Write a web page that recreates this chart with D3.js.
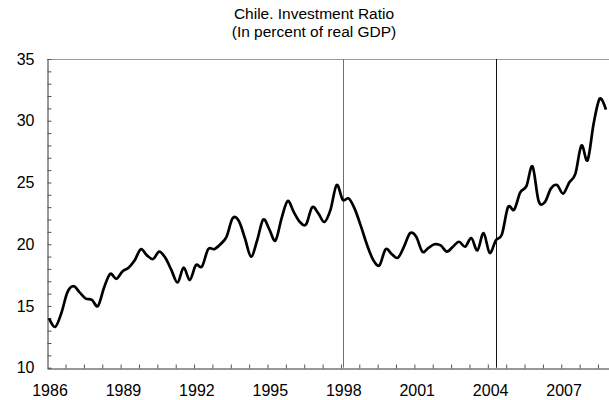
<!DOCTYPE html>
<html>
<head>
<meta charset="utf-8">
<script src="https://cdn.jsdelivr.net/npm/d3@7"></script>
<style>
  body { margin: 0; background: #fff; }
  text { font-family: "Liberation Sans", Arial, sans-serif; fill: #000; }
</style>
</head>
<body>
<script>
// quarterly investment ratio, 1986Q1 .. 2008Q4
const startYear = 1986
const ratio = [
  14.0, 13.3, 14.4, 16.1, 16.6, 16.1, 15.6, 15.5, 15.0, 16.5,
  17.6, 17.2, 17.8, 18.1, 18.7, 19.6, 19.1, 18.8, 19.4, 18.9,
  17.9, 16.9, 18.1, 17.1, 18.3, 18.2, 19.6, 19.6, 20.0, 20.6,
  22.1, 21.9, 20.5, 19.0, 20.3, 22.0, 21.2, 20.3, 22.1, 23.5,
  22.6, 21.8, 21.6, 23.0, 22.5, 21.8, 22.8, 24.8, 23.6, 23.7,
  22.8, 21.4, 19.9, 18.7, 18.3, 19.6, 19.2, 18.9, 19.8, 20.9,
  20.6, 19.4, 19.7, 20.0, 19.9, 19.4, 19.8, 20.2, 19.8, 20.5,
  19.5, 20.9, 19.3, 20.3, 20.8, 23.0, 22.8, 24.2, 24.7, 26.3,
  23.5, 23.4, 24.5, 24.8, 24.1, 25.0, 25.7, 28.0, 26.8, 29.8,
  31.8, 30.9
]
const quarters = ratio.map((d, i) => (startYear + Math.floor(i / 4)) + "Q" + (i % 4 + 1))
const yearLabels = [1986, 1989, 1992, 1995, 1998, 2001, 2004, 2007]
const yTicks = [10, 15, 20, 25, 30, 35]
const eventQuarters = ["1998Q1", "2004Q2"]
const titleLines = ["Chile. Investment Ratio", "(In percent of real GDP)"]

const width = 609, height = 400
const margin = { top: 59, right: 0, bottom: 32, left: 47 }

const svg = d3.select("body")
  .append("svg")
  .attr("width", width)
  .attr("height", height)

// index based x scale (categories are evenly spaced quarters)
const x = d3.scaleLinear()
  .domain([-0.33, ratio.length - 0.5])
  .range([margin.left, width - margin.right])

const y = d3.scaleLinear()
  .domain([10, 35])
  .range([height - margin.bottom - 0.3, margin.top])

// title
svg.selectAll(".title")
  .data(titleLines)
  .enter()
  .append("text")
  .attr("class", "title")
  .attr("x", 314)
  .attr("y", (d, i) => 19 + i * 18)
  .attr("text-anchor", "middle")
  .style("font-size", "15.5px")
  .text(d => d)

// top border
svg.append("line")
  .attr("x1", margin.left).attr("x2", width)
  .attr("y1", Math.round(y(35)) + 0.5).attr("y2", Math.round(y(35)) + 0.5)
  .attr("stroke", "#9a9a9a")

// event lines
svg.selectAll(".event")
  .data(eventQuarters)
  .enter()
  .append("line")
  .attr("class", "event")
  .attr("x1", d => Math.round(x(quarters.indexOf(d))) + 0.5)
  .attr("x2", d => Math.round(x(quarters.indexOf(d))) + 0.5)
  .attr("y1", y(35))
  .attr("y2", y(10))
  .attr("stroke", (d, i) => i === 0 ? "#707070" : "#111")
  .attr("stroke-width", 1)

// y axis with minor ticks every 1
const yAxis = svg.append("g")
  .attr("transform", `translate(${margin.left + 0.5},0)`)
  .call(d3.axisLeft(y)
    .tickValues(d3.range(10, 36))
    .tickSize(-4)
    .tickSizeOuter(0)
    .tickPadding(13)
    .tickFormat(d => yTicks.includes(d) ? d : ""))
yAxis.select(".domain").attr("stroke", "#333")
yAxis.selectAll(".tick line").attr("stroke", "#555")
yAxis.selectAll(".tick text")
  .style("font-size", "16px")
  .style("font-family", '"Liberation Sans", Arial, sans-serif')
  .attr("fill", "#000")

// x axis: small ticks every 3 quarters
const xTickIdx = d3.range(1, 31).map(k => 3 * k - 0.3)
const xAxis = svg.append("g")
  .attr("transform", `translate(0,${Math.round(y(10)) + 0.5})`)
  .call(d3.axisBottom(x)
    .tickValues(xTickIdx)
    .tickSize(-4)
    .tickSizeOuter(0)
    .tickFormat(""))
xAxis.select(".domain").attr("stroke", "#333")
xAxis.selectAll(".tick line").attr("stroke", "#555")

// year labels
svg.selectAll(".year")
  .data(yearLabels)
  .enter()
  .append("text")
  .attr("class", "year")
  .attr("x", d => x(quarters.indexOf(d + "Q1")) + 1)
  .attr("y", 396)
  .attr("text-anchor", "middle")
  .style("font-size", "16px")
  .text(d => d)

// the series
const line = d3.line()
  .x((d, i) => x(i))
  .y(d => y(d))
  .curve(d3.curveCardinal.tension(0))

svg.append("path")
  .datum(ratio)
  .attr("d", line)
  .attr("fill", "none")
  .attr("stroke", "#000")
  .attr("stroke-width", 2.7)
  .attr("stroke-linejoin", "round")
</script>
</body>
</html>
